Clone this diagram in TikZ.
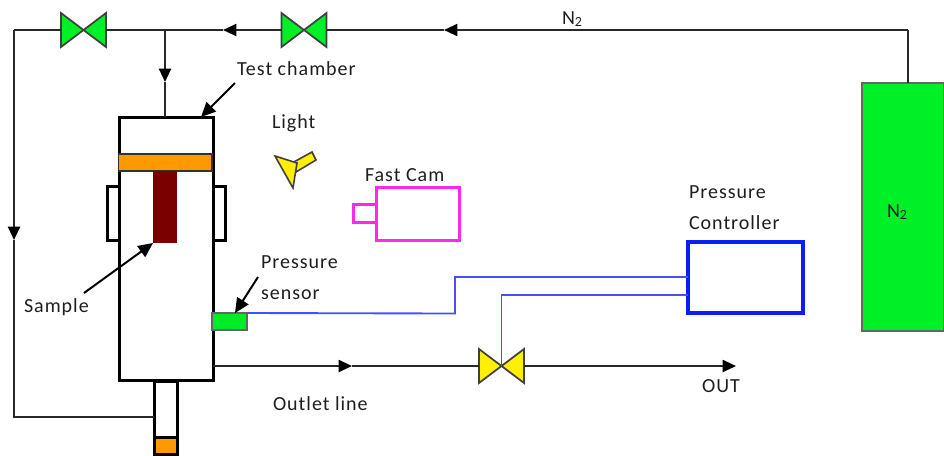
\documentclass[tikz,border=0pt]{standalone}
\usepackage{fontspec}
\setmainfont[LetterSpace=5]{Carlito}
\usetikzlibrary{arrows.meta}
\def\px{0.75pt}
\definecolor{vgreen}{RGB}{0,240,40}
\definecolor{sgreen}{RGB}{0,235,40}
\definecolor{vyellow}{RGB}{255,240,0}
\definecolor{chamberorange}{RGB}{255,153,0}
\definecolor{samplered}{RGB}{122,0,0}
\definecolor{camcol}{RGB}{255,40,235}
\definecolor{ctrlblue}{RGB}{10,30,245}
\definecolor{wireblue}{RGB}{70,80,250}
\definecolor{pipe}{RGB}{40,40,40}
\definecolor{txt}{RGB}{30,30,30}
\newcommand\bx[7][]{%
  \pgfmathsetmacro\bxw{(#6-#4)*0.75}\pgfmathsetmacro\bxh{(#7-#5)*0.75}%
  \node[#3,#1,minimum width=\bxw pt,minimum height=\bxh pt] (#2) at ({(#4+#6)/2},{(#5+#7)/2}) {};}
\newcommand\valve[4]{%
  \node[valvebox] (#1) at (#2,#3) {};
  \draw[valveline,fill=#4] (#1.north west) -- (#1.south west) -- (#1.center) -- cycle;
  \draw[valveline,fill=#4] (#1.north east) -- (#1.south east) -- (#1.center) -- cycle;}
\tikzset{
  plain/.style={draw,inner sep=0pt,outer sep=0pt},
  wall/.style={plain,draw=black,line width=2.25pt},
  valvebox/.style={inner sep=0pt,outer sep=0pt,minimum width=45*\px,minimum height=34*\px},
  valveline/.style={draw=black!75,line width=1.3pt,line join=miter},
  pipeline/.style={draw=pipe,line width=1.5pt},
  flow/.style={pipeline,-{Triangle[length=10pt,width=9pt,color=black]}},
  callout/.style={draw=black,line width=1.5pt,-{Triangle[length=11pt,width=10pt]}},
  wire/.style={draw=wireblue,line width=1.4pt},
  lbl/.style={inner sep=0pt,outer sep=0pt,text=txt,font=\fontsize{15pt}{17pt}\selectfont,anchor=base west},
}
\begin{document}
\begin{tikzpicture}[x=0.75pt,y=-0.75pt]
\useasboundingbox (0,0) rectangle (944,455);
\coordinate (tl) at (14,30);
\coordinate (bl) at (14,417);
\coordinate (tr) at (908,30);
\coordinate (branch) at (165,30);
\coordinate (a1) at (223,30);
\coordinate (a2) at (444,30);
\coordinate (a3) at (14,240);
\coordinate (a4) at (165,82);
\coordinate (a5) at (352,366);
\coordinate (outend) at (736,366);
\bx[fill=white]{sideL}{wall}{107}{186}{119}{240}
\bx[fill=white]{sideR}{wall}{213}{186}{225}{240}
\bx[fill=white]{chamber}{wall}{119}{117}{213}{380}
\bx[fill=chamberorange,draw=black!80,line width=1.3pt]{piston}{plain}{118.5}{154}{212}{171}
\bx[fill=samplered,draw=samplered,line width=0.5pt]{sample}{plain}{153}{171}{176}{242}
\bx[fill=white]{tube}{wall}{154}{381}{177}{454}
\bx[fill=chamberorange]{plug}{wall}{154}{437}{177}{454}
\bx[fill=vgreen,draw=black!60,line width=0.8pt]{tank}{plain}{862}{83}{944}{331}
\bx[fill=sgreen,draw=black!60,line width=0.8pt]{sensor}{plain}{212}{313}{247}{330}
\bx[draw=camcol,line width=2.25pt]{cam}{plain}{376}{187}{459}{240}
\bx[draw=camcol,line width=2.25pt]{lens}{plain}{353}{204}{376}{222}
\bx[draw=ctrlblue,line width=2.4pt]{ctrl}{plain}{688}{242}{803}{313}
\valve{v1}{83.5}{30}{vgreen}
\valve{v2}{304}{30}{vgreen}
\valve{v3}{501.5}{366}{vyellow}
\draw[flow] (tr) -- (a2);
\draw[pipeline] (tank.north -| tr) -- (tr);
\draw[pipeline] (a2) -- (v2.east);
\draw[flow] (v2.west) -- (a1);
\draw[pipeline] (a1) -- (branch) -- (v1.east);
\draw[flow] (tl) -- (a3);
\draw[pipeline] (v1.west) -- (tl);
\draw[pipeline] (a3) -- (bl) -- (tube.west |- bl);
\draw[flow] (branch) -- (a4);
\draw[pipeline] (a4) -- (chamber.north -| branch);
\draw[flow] (chamber.east |- a5) -- (a5);
\draw[pipeline] (a5) -- (v3.west);
\draw[flow] (v3.east) -- (outend);
\draw[wire] (sensor.north east) -- (455,313.5) -- (455,277) -- (ctrl.west |- 0,277);
\draw[wire] (ctrl.west |- 0,295) -- (501.5,295) -- (v3.center);
\coordinate (c1) at (235,83);
\coordinate (c2) at (84,293);
\coordinate (c3) at (258,277);
\draw[callout] (c1) -- (201,117);
\draw[callout] (c2) -- (153,243);
\draw[callout] (c3) -- (235,313);
\draw[fill=vyellow,draw=black!75,line width=1.2pt,line join=miter] (292,163) -- (312,152) -- (316,160) -- (296,172) -- cycle;
\draw[fill=vyellow,draw=black!75,line width=1.2pt,line join=miter] (275,156) -- (297,163) -- (293,188) -- cycle;
\node[lbl] (lN) at (562,24) {N\textsubscript{2}};
\node[lbl] (lTest) at (237,75) {Test chamber};
\node[lbl] (lLight) at (272,128) {Light};
\node[lbl] (lCam) at (365,181) {Fast Cam};
\node[lbl] (lP1) at (689,198) {Pressure};
\node[lbl] (lP2) at (689,229) {Controller};
\node[lbl] (lS1) at (261,268) {Pressure};
\node[lbl] (lS2) at (261,299) {sensor};
\node[lbl] (lSample) at (24,312) {Sample};
\node[lbl] (lOut) at (702,392) {OUT};
\node[lbl] (lOutlet) at (273,410) {Outlet line};
\node[lbl] (lTank) at (887,217) {N\textsubscript{2}};
\end{tikzpicture}
\end{document}
